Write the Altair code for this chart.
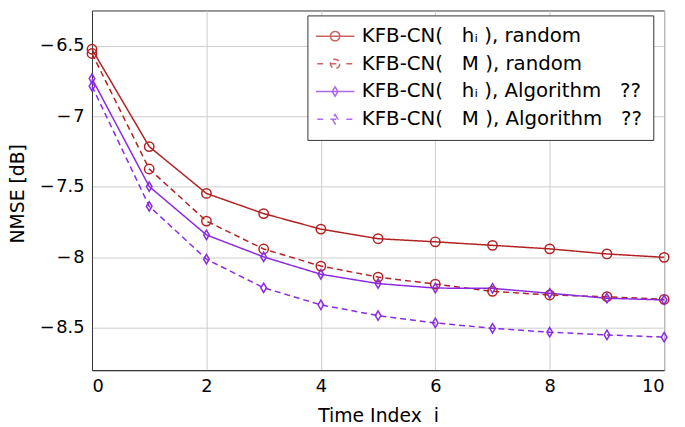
import altair as alt
import pandas as pd

# ---- data ----
time_index = [0, 1, 2, 3, 4, 5, 6, 7, 8, 9, 10]
nmse_hi_random = [-6.525, -7.215, -7.547, -7.69, -7.80, -7.868, -7.89, -7.915, -7.94, -7.976, -8.00]
nmse_m_random = [-6.555, -7.374, -7.743, -7.941, -8.062, -8.14, -8.19, -8.241, -8.267, -8.279, -8.298]
nmse_hi_alg = [-6.733, -7.498, -7.841, -7.997, -8.12, -8.186, -8.218, -8.22, -8.255, -8.29, -8.302]
nmse_m_alg = [-6.787, -7.638, -8.013, -8.216, -8.337, -8.413, -8.465, -8.503, -8.531, -8.55, -8.566]

NB = "\u00a0"
series_labels = [
    f"KFB-CN({NB*3}hᵢ{NB}), random",
    f"KFB-CN({NB*3}M{NB}), random",
    f"KFB-CN({NB*3}hᵢ{NB}), Algorithm{NB*3}??",
    f"KFB-CN({NB*3}M{NB}), Algorithm{NB*3}??",
]
series_values = [nmse_hi_random, nmse_m_random, nmse_hi_alg, nmse_m_alg]
x_ticks = [0, 2, 4, 6, 8, 10]
y_ticks = [-8.5, -8.0, -7.5, -7.0, -6.5]

# ---- styles ----
RED = "#B22222"
PURPLE = "#8A2BE2"
colors = [RED, RED, PURPLE, PURPLE]
dashes = [[1, 0], [6, 4], [1, 0], [6, 4]]
DIAMOND = "M0,-1L0.6,0L0,1L-0.6,0Z"
CIRCLE = "M1,0A1,1 0 1,1 -1,0A1,1 0 1,1 1,0"
SOLID = "M-4.1,0L4.1,0"
DASHED = "M-3.8,0L-2.4,0M-1,0L1,0M2.4,0L3.8,0"
legend_shapes = [SOLID + CIRCLE, DASHED + CIRCLE, SOLID + DIAMOND, DASHED + DIAMOND]

rows = []
for lab, vals in zip(series_labels, series_values):
    for t, v in zip(time_index, vals):
        rows.append({"t": t, "nmse": v, "series": lab})
df = pd.DataFrame(rows)

FONT = "DejaVu Sans"

leg = alt.Legend(
    title=None, orient="none", legendX=218, legendY=5, direction="vertical",
    fillColor="white", strokeColor="#333333", padding=11, cornerRadius=0,
    labelFont=FONT, labelFontSize=20, labelColor="black",
    symbolOffset=7, labelOffset=17,
    labelLimit=0,
    symbolSize=90, symbolStrokeWidth=1.5, symbolFillColor="transparent",
    rowPadding=8,
)

color_enc = alt.Color("series:N", scale=alt.Scale(domain=series_labels, range=colors), legend=leg)

x_enc = alt.X(
    "t:Q",
    scale=alt.Scale(domain=[0, 10], nice=False, zero=False),
    axis=alt.Axis(
        values=x_ticks, title=f"Time Index{NB*2}i", ticks=False, labelPadding=8,
        labelFontSize=18, titleFontSize=19, titleFontWeight="normal",
        titleY=52, titleBaseline="alphabetic",
    ),
)
y_enc = alt.Y(
    "nmse:Q",
    scale=alt.Scale(domain=[-8.8, -6.25], nice=False, zero=False),
    axis=alt.Axis(
        values=y_ticks, title="NMSE [dB]", ticks=False, labelPadding=8,
        labelExpr="'−\u200a' + toString(abs(datum.value))",
        labelFontSize=18, titleFontSize=19, titleFontWeight="normal",
        titleX=-69, titleY=185, titleAngle=270, titleAlign="center", titleBaseline="alphabetic",
    ),
)

base = alt.Chart(df)

legend_layer = base.transform_filter("datum.t < 0").mark_point(
    filled=False, strokeWidth=1.5, size=90
).encode(
    x=x_enc, y=y_enc, color=color_enc,
    shape=alt.Shape("series:N", scale=alt.Scale(domain=series_labels, range=legend_shapes), legend=leg),
)

lines = base.mark_line(strokeWidth=1.5).encode(
    x=x_enc, y=y_enc, color=color_enc,
    strokeDash=alt.StrokeDash("series:N", scale=alt.Scale(domain=series_labels, range=dashes), legend=None),
    detail="series:N",
)

circles = base.transform_filter(alt.FieldOneOfPredicate(field="series", oneOf=series_labels[:2])).mark_point(
    shape="circle", size=90, filled=False, strokeWidth=1.5, opacity=1
).encode(x=x_enc, y=y_enc, color=color_enc)

diamonds = base.transform_filter(alt.FieldOneOfPredicate(field="series", oneOf=series_labels[2:])).mark_point(
    shape=DIAMOND, size=90, filled=False, strokeWidth=1.5, opacity=1
).encode(x=x_enc, y=y_enc, color=color_enc)

chart = alt.layer(legend_layer, lines, circles, diamonds).properties(
    width=579, height=364,
    autosize=alt.AutoSizeParams(type="none"),
    padding={"left": 85, "top": 0, "right": 13, "bottom": 55},
).configure(font=FONT).configure_view(
    stroke="#333333", strokeWidth=1
).configure_axis(
    domainColor="#333333", gridColor="#cccccc", gridWidth=1,
    labelColor="black", titleColor="black", labelFont=FONT, titleFont=FONT,
)

chart.save("out.html", embed_options={"renderer": "svg", "actions": False})
